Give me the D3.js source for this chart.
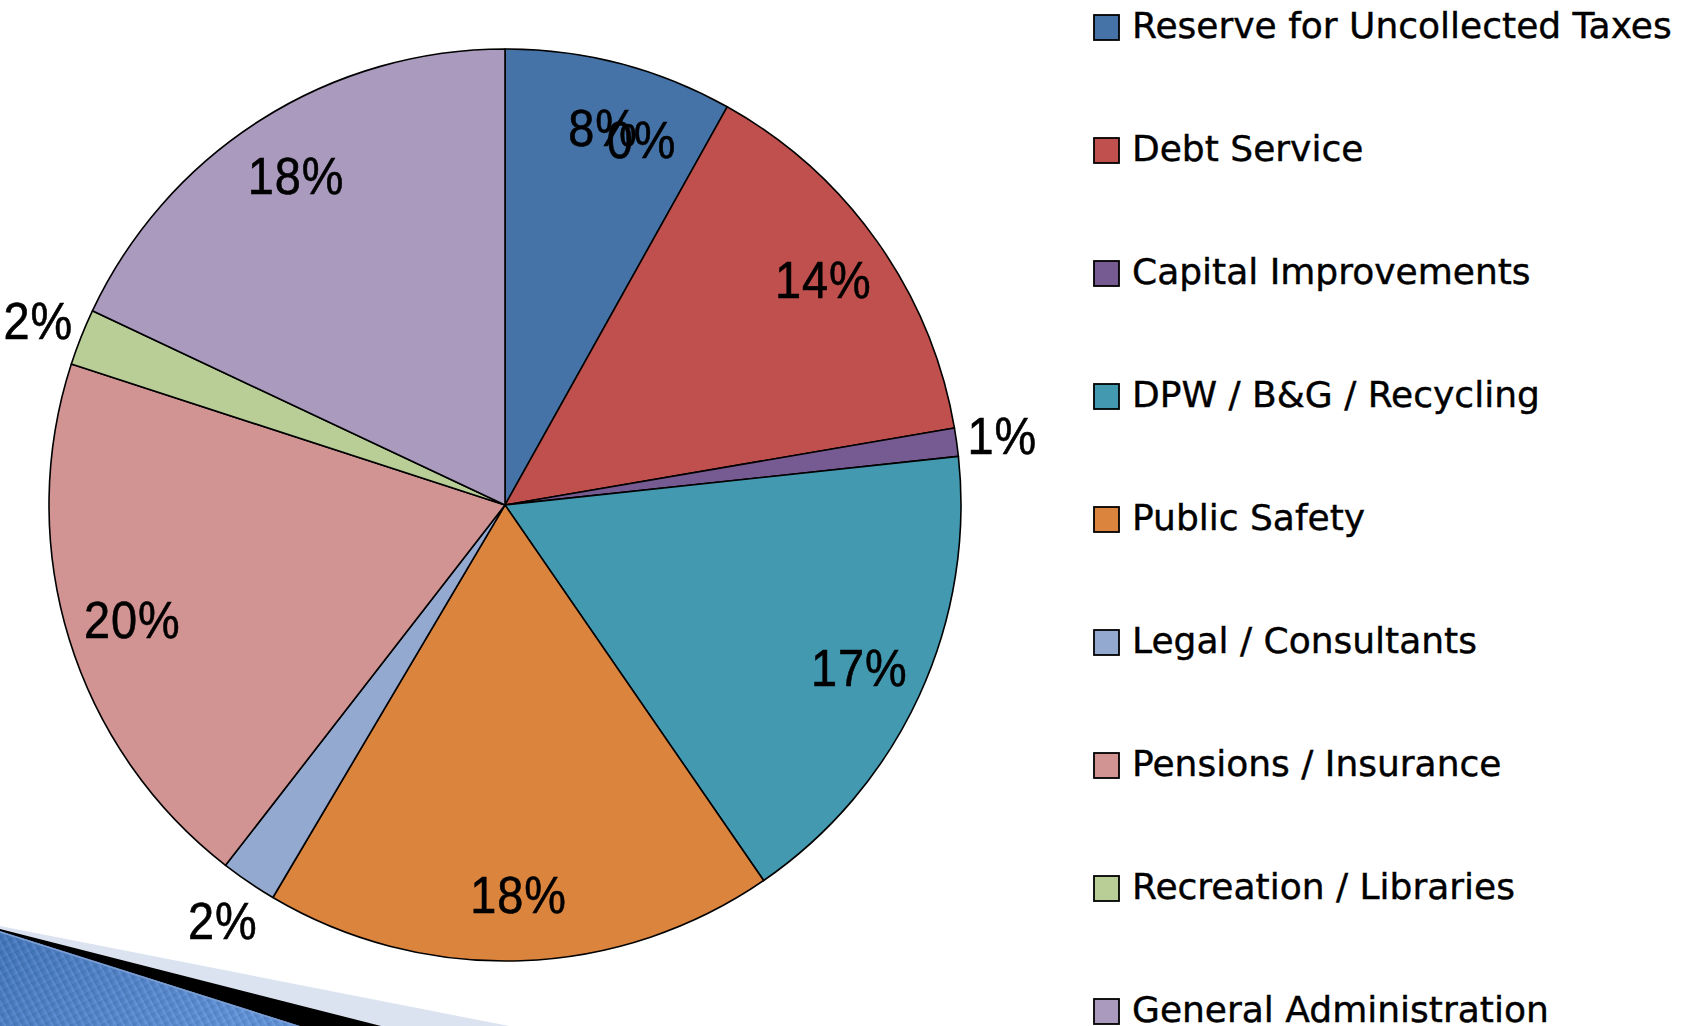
<!DOCTYPE html>
<html>
<head>
<meta charset="utf-8">
<script src="https://cdn.jsdelivr.net/npm/d3@7"></script>
<style>
  body { margin: 0; background: #fff; }
  svg { display: block; }
</style>
</head>
<body>
<svg id="pie-budget"></svg>
<script>
// budget shares (percent), clockwise from 12 o'clock
const categories = [
  "Reserve for Uncollected Taxes",
  "Debt Service",
  "Capital Improvements",
  "DPW / B&G / Recycling",
  "Public Safety",
  "Legal / Consultants",
  "Pensions / Insurance",
  "Recreation / Libraries",
  "General Administration",
  "Other"
];
const values = [8.1, 14.2, 1.0, 17.1, 18.1, 2.0, 19.5, 2.0, 18.0, 0];
const colors = [
  "#4673A7", "#C0504D", "#765B92", "#4299B0", "#DB843E",
  "#94A9D0", "#D29393", "#B9CD97", "#A99ABE", "#4F81BD"
];

const width = 1692,
  height = 1026;
const cx = 505,
  cy = 505,
  radius = 456;

const svg = d3
  .select("#pie-budget")
  .attr("width", width)
  .attr("height", height);

// decorative template corner (bottom left)
const defs = svg.append("defs");
const grad = defs
  .append("linearGradient")
  .attr("id", "cornerGrad")
  .attr("x1", "0%")
  .attr("y1", "0%")
  .attr("x2", "100%")
  .attr("y2", "40%");
grad.append("stop").attr("offset", "0%").attr("stop-color", "#2B5D9F");
grad.append("stop").attr("offset", "100%").attr("stop-color", "#6E9DE0");

const stripes = defs
  .append("pattern")
  .attr("id", "cornerStripes")
  .attr("patternUnits", "userSpaceOnUse")
  .attr("width", 7)
  .attr("height", 7)
  .attr("patternTransform", "rotate(-28)");
stripes
  .append("rect")
  .attr("width", 7)
  .attr("height", 7)
  .attr("fill", "url(#cornerGrad)");
stripes
  .append("line")
  .attr("x1", 1)
  .attr("x2", 1)
  .attr("y1", 0)
  .attr("y2", 7)
  .attr("stroke", "#ffffff")
  .attr("stroke-opacity", 0.07)
  .attr("stroke-width", 2);

const corner = svg.append("g");
corner
  .append("path")
  .attr("d", "M0,926 L509,1026 L0,1026 Z")
  .attr("fill", "#DCE3F0");
corner
  .append("path")
  .attr("d", "M0,929 L381,1026 L0,1026 Z")
  .attr("fill", "#000");
corner
  .append("path")
  .attr("d", "M0,931 L300,1026 L0,1026 Z")
  .attr("fill", "url(#cornerGrad)");
corner
  .append("path")
  .attr("d", "M0,931 L300,1026 L0,1026 Z")
  .attr("fill", "url(#cornerStripes)")
  .attr("opacity", 0.6);
corner
  .append("path")
  .attr("d", "M0,932 L300,1027")
  .attr("stroke", "#7E9FD2")
  .attr("stroke-width", 1.5);

// pie
const data = categories.map((c, i) => ({ name: c, value: values[i], color: colors[i] }));

const pie = d3
  .pie()
  .sort(null)
  .value((d) => d.value);
const arcs = pie(data);

const arc = d3.arc().innerRadius(0).outerRadius(radius);
const labelArcIn = d3.arc().innerRadius(390).outerRadius(390);
const labelArcOut = d3.arc().innerRadius(502).outerRadius(502);

const g = svg.append("g").attr("transform", `translate(${cx},${cy})`);

g.selectAll("path.slice")
  .data(arcs.filter((d) => d.value > 0))
  .join("path")
  .attr("class", "slice")
  .attr("d", arc)
  .attr("fill", (d) => d.data.color)
  .attr("stroke", "#000")
  .attr("stroke-width", 1.6)
  .attr("stroke-linejoin", "round");

// zero slices get their label nudged into the neighbouring slice
const zeroShift = 0.358;

g.selectAll("text.pct")
  .data(arcs)
  .join("text")
  .attr("class", "pct")
  .attr("transform", (d) => {
    let p;
    if (d.value === 0) {
      const a = d.startAngle + zeroShift;
      p = [390 * Math.sin(a), -390 * Math.cos(a)];
    } else if (d.value < 3) {
      p = labelArcOut.centroid(d);
    } else {
      p = labelArcIn.centroid(d);
    }
    return `translate(${p[0]},${p[1]}) scale(0.92,1)`;
  })
  .attr("dy", "0.36em")
  .attr("text-anchor", "middle")
  .attr("font-family", "'Liberation Sans', sans-serif")
  .attr("font-size", "51px")
  .attr("letter-spacing", "1px")
  .attr("stroke", "#000")
  .attr("stroke-width", 0.6)
  .attr("fill", "#000")
  .text((d) => Math.round(d.value) + "%");

// legend
const legend = svg.append("g").attr("transform", "translate(1094, 15)");
const row = legend
  .selectAll("g")
  .data(data)
  .join("g")
  .attr("transform", (d, i) => `translate(0, ${i * 123})`);

row
  .append("rect")
  .attr("width", 25)
  .attr("height", 25)
  .attr("fill", (d) => d.color)
  .attr("stroke", "#000")
  .attr("stroke-width", 1.8);

row
  .append("text")
  .attr("x", 38)
  .attr("y", 23)
  .attr("font-family", "'DejaVu Sans', sans-serif")
  .attr("font-size", "36px")
  .attr("stroke", "#000")
  .attr("stroke-width", 0.4)
  .attr("fill", "#000")
  .text((d) => d.name);
</script>
</body>
</html>
